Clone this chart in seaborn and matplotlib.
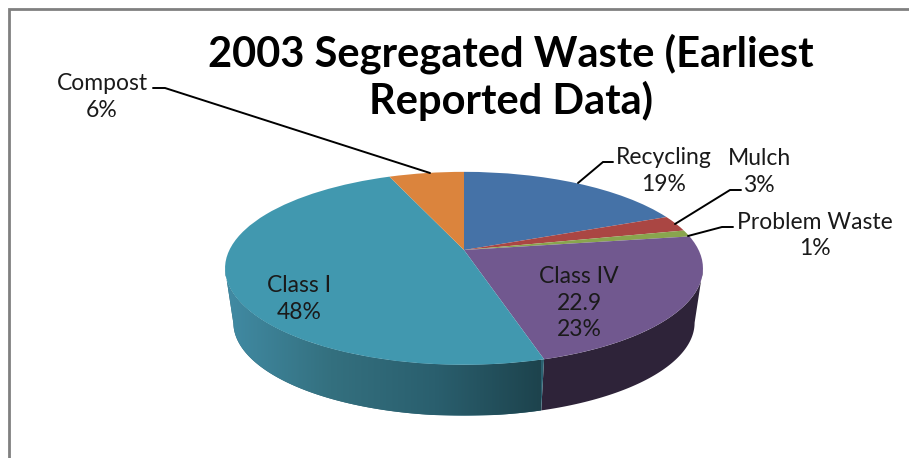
import numpy as np
import matplotlib
matplotlib.use("Agg")
import matplotlib.pyplot as plt
from matplotlib.colors import LinearSegmentedColormap
from matplotlib.patches import Polygon
import seaborn as sns

# ---- data ----
categories = ["Recycling", "Mulch", "Problem Waste", "Class IV", "Class I", "Compost"]
values = [18.8, 2.7, 1.1, 22.9, 48.4, 6.1]
value_notes = ["", "", "", "22.9", "", ""]
percent_labels = ["19%", "3%", "1%", "23%", "48%", "6%"]
title_lines = ["2003 Segregated Waste (Earliest", "Reported Data)"]

# ---- style ----
top_colors = ["#4572A7", "#AA4643", "#89A54E", "#71588F", "#4198AF", "#DB843D"]
side_colors = ["#2A4465", "#662A28", "#52632F", "#2E2339", "#2A6070", "#844F25"]
gradient_colors = ["#418BA4", "#34707F", "#2A5F6E", "#1D434D"]
text_color = "#1a1a1a"

label_xy = [(664, 171), (759, 172), (815, 235.5), (579, 303), (299, 299), (102, 97)]
leaders = [
    [(578, 183), (603, 162), (613, 162)],
    [(675, 224), (730, 190), (741, 190)],
    [(688, 236), (722, 227), (733, 227)],
    None,
    None,
    [(430, 173), (165, 88), (153, 88)],
]

# perspective mapping of the flat pie onto the tilted disc
APEX_X, APEX_Y = 464, 250
SX, SY, K = 234.6, 93.0, 0.19
BOTTOM_SCALE, BOTTOM_APEX_Y = 0.965, 305
TANGENT = np.degrees(np.arcsin(K))


def project(xy, scale=1.0, apex_y=APEX_Y):
    xy = np.asarray(xy, dtype=float)
    w = 1 + K * xy[:, 1]
    return np.column_stack([
        APEX_X + scale * SX * xy[:, 0] / w,
        apex_y - scale * SY * xy[:, 1] / w,
    ])


sns.set_theme(style="white")
plt.rcParams["font.family"] = ["Lato", "DejaVu Sans"]

fig = plt.figure(figsize=(9.09, 4.58), dpi=100, facecolor="white")
ax = fig.add_axes([0, 0, 1, 1])

wedges, _ = ax.pie(values, colors=top_colors, startangle=90, counterclock=False,
                   radius=1, center=(0, 0), wedgeprops={"linewidth": 0, "zorder": 3})

ax.set_aspect("auto")
ax.set_xlim(0, 909)
ax.set_ylim(458, 0)
ax.set_axis_off()
ax.set_autoscale_on(False)

for i, w in enumerate(wedges):
    # side wall of the slice: only the front part of the rim is visible
    deg = np.linspace(w.theta1, w.theta2, 240)
    deg = deg[((deg % 360) >= 180 + TANGENT) & ((deg % 360) <= 360 - TANGENT)]
    if deg.size > 1:
        t = np.radians(deg)
        arc = np.column_stack([np.cos(t), np.sin(t)])
        side = np.vstack([project(arc), project(arc, BOTTOM_SCALE, BOTTOM_APEX_Y)[::-1]])
        poly = Polygon(side, closed=True, facecolor=side_colors[i], edgecolor="none", zorder=1)
        ax.add_patch(poly)
        if categories[i] == "Class I":
            cmap = LinearSegmentedColormap.from_list("side", gradient_colors)
            img = ax.imshow(np.linspace(0, 1, 256)[None, :], cmap=cmap, aspect="auto",
                            extent=(225, 541, 415, 250), zorder=2, interpolation="bilinear")
            img.set_clip_path(poly)
    # top face of the slice: bend the pie's own wedge into perspective
    path = w.get_path()
    path.vertices = project(path.vertices)

ax.set_xlim(0, 909)
ax.set_ylim(458, 0)

# frame remains of the screenshot
ax.plot([8.5, 8.5, 909], [458, 9, 9], color="#808080", lw=2, zorder=0, solid_joinstyle="miter")

# title
ax.text(511, 54, title_lines[0], ha="center", va="center", fontsize=30, fontweight="bold", color="black", zorder=6)
ax.text(511, 101, title_lines[1], ha="center", va="center", fontsize=30, fontweight="bold", color="black", zorder=6)

# labels and leader lines
for name, note, pct, (x, y), lead in zip(categories, value_notes, percent_labels, label_xy, leaders):
    lines = [name] + ([note] if note else []) + [pct]
    ax.text(x, y, "\n".join(lines), ha="center", va="center", fontsize=16.5,
            color=text_color, linespacing=1.35, zorder=6)
    if lead:
        xs, ys = zip(*lead)
        ax.plot(xs, ys, color="black", lw=1.4, zorder=5, solid_joinstyle="miter")

fig.savefig("out.png", dpi=100, facecolor="white")
